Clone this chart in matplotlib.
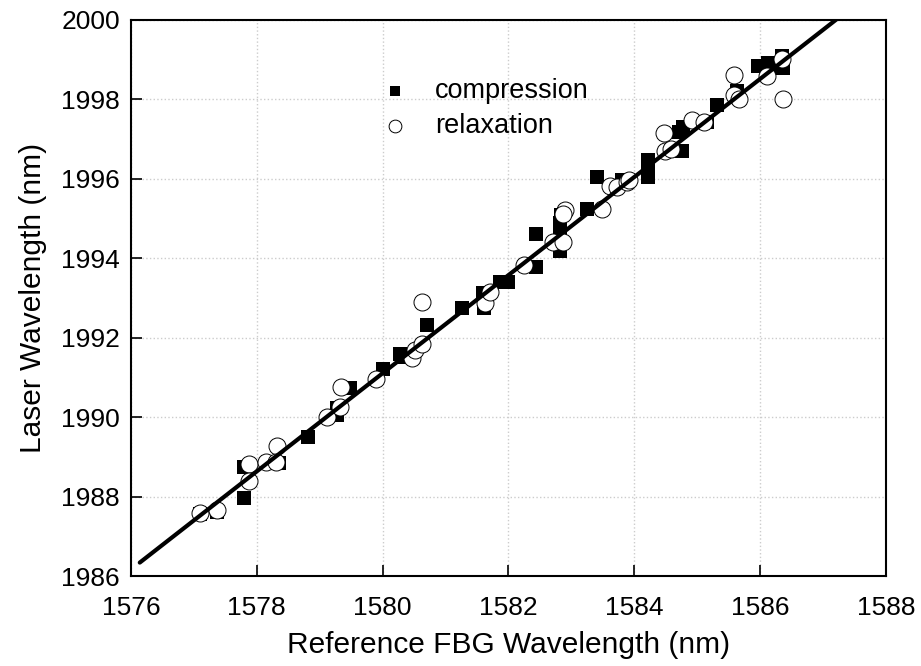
"""Laser wavelength vs reference FBG wavelength, compression and relaxation runs."""

import matplotlib.pyplot as plt
import numpy as np

plt.rcParams["font.family"] = ["Liberation Sans", "DejaVu Sans"]

# Compression run (filled squares)
comp_ref = [1577.10, 1577.37, 1577.79, 1577.79, 1578.17, 1578.35, 1578.82,
            1579.28, 1579.28, 1579.48, 1580.00, 1580.28, 1580.34, 1580.70,
            1581.26, 1581.61, 1581.60, 1581.86, 1582.00, 1582.44, 1582.44,
            1582.82, 1582.82, 1582.82, 1582.84, 1583.25, 1583.40, 1583.80,
            1584.22, 1584.22, 1584.22, 1584.71, 1584.78, 1584.75, 1585.15,
            1585.32, 1585.63, 1585.97, 1586.13, 1586.19, 1586.35, 1586.36]
comp_laser = [1987.56, 1987.62, 1987.96, 1988.74, 1988.88, 1988.84, 1989.51,
              1990.06, 1990.24, 1990.73, 1991.21, 1991.58, 1991.52, 1992.31,
              1992.76, 1992.74, 1993.12, 1993.41, 1993.41, 1993.78, 1994.61,
              1994.19, 1994.72, 1994.90, 1995.08, 1995.25, 1996.04, 1995.97,
              1996.05, 1996.25, 1996.48, 1997.19, 1997.30, 1996.69, 1997.44,
              1997.85, 1998.22, 1998.85, 1998.92, 1998.79, 1999.10, 1998.80]

# Relaxation run (open circles)
relax_ref = [1577.10, 1577.36, 1577.88, 1577.88, 1578.15, 1578.32, 1578.30,
             1579.11, 1579.32, 1579.34, 1579.90, 1580.47, 1580.52, 1580.62,
             1580.62, 1581.63, 1581.71, 1582.24, 1582.71, 1582.87, 1582.90,
             1582.87, 1583.48, 1583.62, 1583.72, 1583.88, 1583.91, 1584.49,
             1584.59, 1584.47, 1584.91, 1585.10, 1585.58, 1585.58, 1585.67,
             1586.11, 1586.35, 1586.37]
relax_laser = [1987.60, 1987.66, 1988.82, 1988.40, 1988.86, 1989.27, 1988.86,
               1990.01, 1990.25, 1990.76, 1990.95, 1991.48, 1991.69, 1991.84,
               1992.91, 1992.88, 1993.16, 1993.83, 1994.42, 1994.42, 1995.22,
               1995.12, 1995.24, 1995.82, 1995.79, 1995.91, 1995.97, 1996.69,
               1996.75, 1997.15, 1997.49, 1997.44, 1998.62, 1998.12, 1998.01,
               1998.58, 1999.01, 1998.02]

# Linear fit through both runs
fit_slope = 1.235
fit_intercept = 1986.34 - fit_slope * 1576.14
fit_range = [1576.14, 1587.5]

fig = plt.figure(figsize=(9.21, 6.66), dpi=100)
ax = fig.add_axes([0.1422, 0.135, 0.8198, 0.835])

ax.scatter(comp_ref, comp_laser, marker="s", s=95, color="black",
           linewidths=0, zorder=2, label="compression")
ax.scatter(relax_ref, relax_laser, marker="o", s=150, facecolor="white",
           edgecolor="black", linewidths=0.7, zorder=3, label="relaxation")

xf = np.array(fit_range)
ax.plot(xf, fit_slope * xf + fit_intercept, color="black", linewidth=3,
        solid_capstyle="round", zorder=4)

ax.set_xlim(1576, 1588)
ax.set_ylim(1986, 2000)
ax.set_xticks(np.arange(1576, 1589, 2))
ax.set_yticks(np.arange(1986, 2001, 2))
ax.grid(True, color="#cccccc", linestyle=":", linewidth=1.0)
ax.set_axisbelow(True)
ax.tick_params(direction="in", length=8, width=1.2, labelsize=19)
ax.tick_params(axis="x", pad=14)
ax.tick_params(axis="y", pad=8)
for sp in ax.spines.values():
    sp.set_linewidth(1.5)

ax.set_xlabel("Reference FBG Wavelength (nm)", fontsize=21.5, labelpad=8)
ax.set_ylabel("Laser Wavelength (nm)", fontsize=21.5, labelpad=10)

ax.legend(loc="upper left", bbox_to_anchor=(0.30, 0.94), frameon=False,
          fontsize=19.5, handletextpad=0.95, labelspacing=0.35,
          markerscale=0.75, handlelength=1.0)

fig.savefig("out.png", dpi=100)
